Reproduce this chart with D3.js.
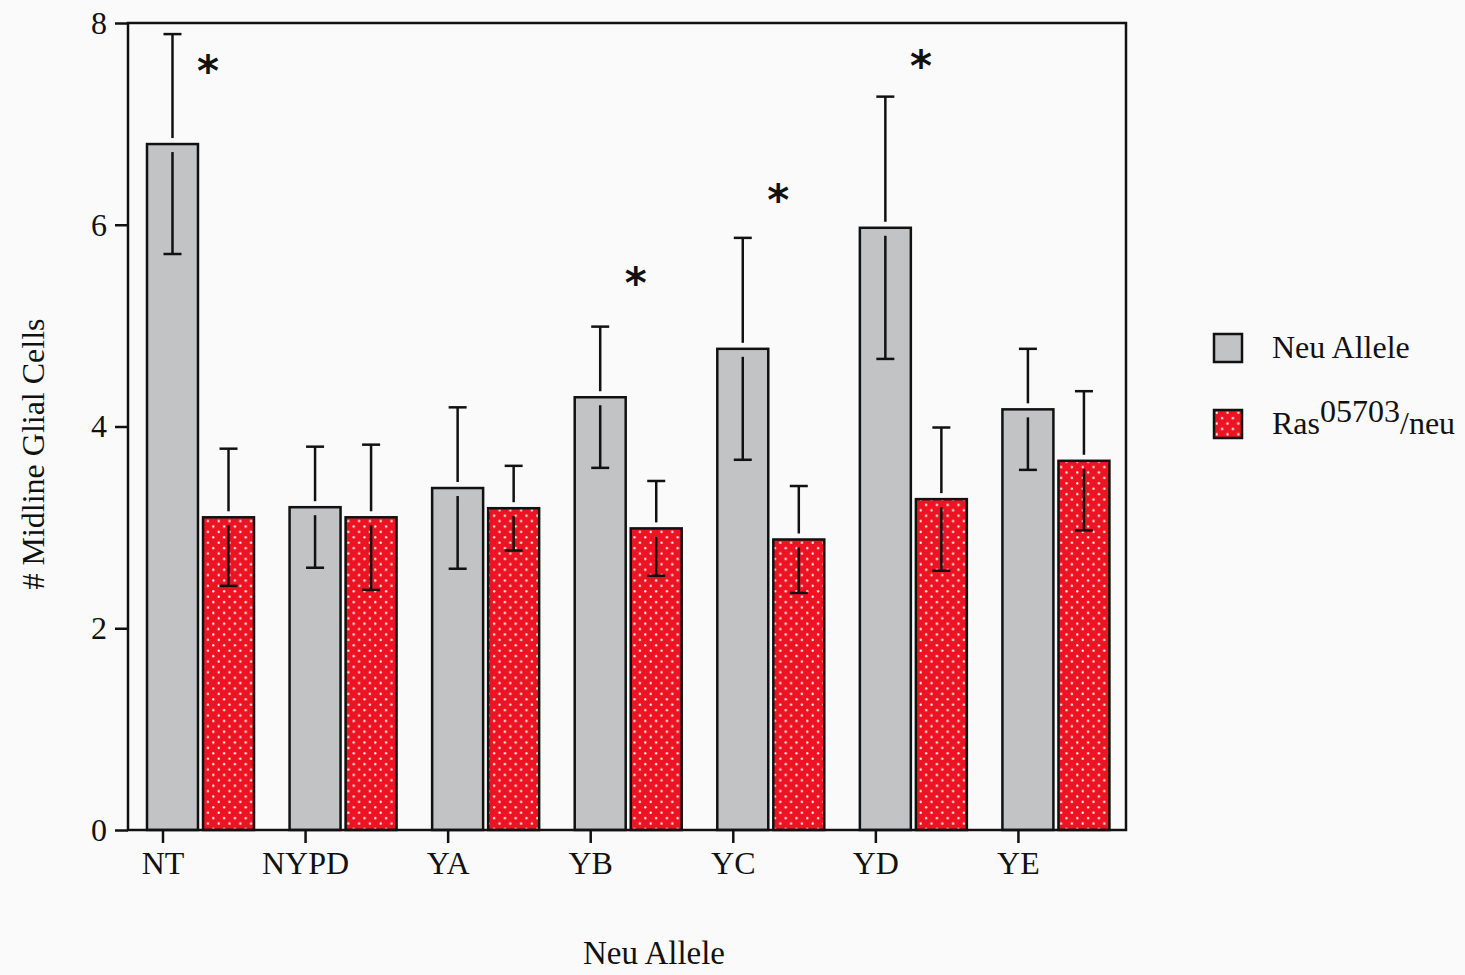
<!DOCTYPE html>
<html>
<head>
<meta charset="utf-8">
<script src="https://cdn.jsdelivr.net/npm/d3@7"></script>
<style>
  body { margin: 0; background: #fafafa; }
  svg { display: block; }
</style>
</head>
<body>
<svg id="chart"></svg>
<script>
// Data
const categories = ["NT", "NYPD", "YA", "YB", "YC", "YD", "YE"];
const seriesNames = ["Neu Allele", "Ras/neu"];
const neuMeans = [6.80, 3.20, 3.39, 4.29, 4.77, 5.97, 4.17];
const neuErr   = [1.09, 0.60, 0.80, 0.70, 1.10, 1.30, 0.60];
const rasMeans = [3.10, 3.10, 3.19, 2.99, 2.88, 3.28, 3.66];
const rasErr   = [0.68, 0.72, 0.42, 0.47, 0.53, 0.71, 0.69];
const starCats = ["NT", "YB", "YC", "YD"];
const starVals = [7.55, 5.45, 6.28, 7.60];
const yTicks = [0, 2, 4, 6, 8];

const W = 1465, H = 975;
const margin = { top: 23, right: 339, bottom: 145, left: 128 };

const svg = d3.select("#chart").attr("width", W).attr("height", H);

const x0 = d3.scaleBand().domain(categories).range([margin.left, W - margin.right]).padding(0);
const x1 = d3.scaleBand().domain(seriesNames).range([19, 126]).paddingInner(0.09);
const y = d3.scaleLinear().domain([0, 8]).range([H - margin.bottom, margin.top]);

const rows = categories.map((c, i) => [
  { cat: c, s: seriesNames[0], v: neuMeans[i], e: neuErr[i] },
  { cat: c, s: seriesNames[1], v: rasMeans[i], e: rasErr[i] }
]).flat();

// dotted red pattern (staggered white dots)
const defs = svg.append("defs");
const pat = defs.append("pattern")
  .attr("id", "dots")
  .attr("patternUnits", "userSpaceOnUse")
  .attr("width", 10.8).attr("height", 10.8);
pat.append("rect").attr("width", 10.8).attr("height", 10.8).attr("fill", "#ec1423");
[[2.7, 2.7], [8.1, 8.1]].forEach(([cx, cy]) => {
  pat.append("circle").attr("cx", cx).attr("cy", cy).attr("r", 1.15).attr("fill", "#fff4f4");
});

const fillOf = s => s === seriesNames[0] ? "#c2c3c5" : "url(#dots)";

// bars
svg.append("g").selectAll("rect")
  .data(rows)
  .join("rect")
  .attr("x", d => x0(d.cat) + x1(d.s))
  .attr("y", d => y(d.v))
  .attr("width", x1.bandwidth())
  .attr("height", d => y(0) - y(d.v))
  .attr("fill", d => fillOf(d.s))
  .attr("stroke", "#111")
  .attr("stroke-width", 2.5);

// error bars (gap where the line crosses the bar top)
const eb = svg.append("g").attr("stroke", "#111").attr("stroke-width", 2.5);
rows.forEach(d => {
  const cx = x0(d.cat) + x1(d.s) + x1.bandwidth() / 2;
  const top = y(d.v + d.e), bot = y(d.v - d.e), yb = y(d.v);
  eb.append("line").attr("x1", cx).attr("x2", cx).attr("y1", top).attr("y2", yb - 6);
  eb.append("line").attr("x1", cx).attr("x2", cx).attr("y1", yb + 8).attr("y2", bot);
  eb.append("line").attr("x1", cx - 9).attr("x2", cx + 9).attr("y1", top).attr("y2", top);
  eb.append("line").attr("x1", cx - 9).attr("x2", cx + 9).attr("y1", bot).attr("y2", bot);
});

// frame
svg.append("rect")
  .attr("x", margin.left).attr("y", margin.top)
  .attr("width", W - margin.right - margin.left)
  .attr("height", H - margin.bottom - margin.top)
  .attr("fill", "none").attr("stroke", "#111").attr("stroke-width", 2.5);

const font = "'Liberation Serif', 'Times New Roman', serif";

// y axis
const yAxis = svg.append("g")
  .attr("transform", `translate(${margin.left},0)`)
  .call(d3.axisLeft(y).tickValues(yTicks).tickSize(13).tickPadding(8).tickFormat(d3.format("d")));
yAxis.select(".domain").remove();
yAxis.selectAll("line").attr("stroke", "#111").attr("stroke-width", 2.5);
yAxis.selectAll("text").attr("font-family", font).attr("font-size", 32).attr("fill", "#111");

// x axis
const xAxis = svg.append("g")
  .attr("transform", `translate(0,${H - margin.bottom})`)
  .call(d3.axisBottom(x0).tickSize(13).tickPadding(8));
xAxis.select(".domain").remove();
xAxis.selectAll(".tick").attr("transform", d => `translate(${x0(d) + 35},0)`);
xAxis.selectAll("line").attr("stroke", "#111").attr("stroke-width", 2.5);
xAxis.selectAll("text").attr("font-family", font).attr("font-size", 32).attr("fill", "#111");

// asterisks
svg.append("g").selectAll("text")
  .data(starCats.map((c, i) => ({ c, v: starVals[i] })))
  .join("text")
  .attr("x", d => x0(d.c) + x1(seriesNames[1]) + 5)
  .attr("y", d => y(d.v) + 18)
  .attr("text-anchor", "middle")
  .attr("font-family", "'DejaVu Sans', sans-serif")
  .attr("font-weight", "bold")
  .attr("font-size", 42)
  .attr("fill", "#111")
  .text("*");

// axis titles
svg.append("text")
  .attr("x", 654).attr("y", 964)
  .attr("text-anchor", "middle")
  .attr("font-family", font).attr("font-size", 33).attr("fill", "#111")
  .text("Neu Allele");

svg.append("text")
  .attr("transform", "translate(44,454) rotate(-90)")
  .attr("text-anchor", "middle")
  .attr("font-family", font).attr("font-size", 32).attr("fill", "#111")
  .text("# Midline Glial Cells");

// legend
const legend = svg.append("g").attr("transform", "translate(1214,334)");
seriesNames.forEach((s, i) => {
  const g = legend.append("g").attr("transform", `translate(0,${i * 76})`);
  g.append("rect").attr("width", 28).attr("height", 28)
    .attr("fill", fillOf(s)).attr("stroke", "#111").attr("stroke-width", 2.5);
  const t = g.append("text").attr("x", 58).attr("y", 24)
    .attr("font-family", font).attr("font-size", 32).attr("fill", "#111");
  if (i === 0) {
    t.text(s);
  } else {
    t.append("tspan").text("Ras");
    t.append("tspan").attr("dy", -12).text("05703");
    t.append("tspan").attr("dy", 12).text("/neu");
  }
});
</script>
</body>
</html>
